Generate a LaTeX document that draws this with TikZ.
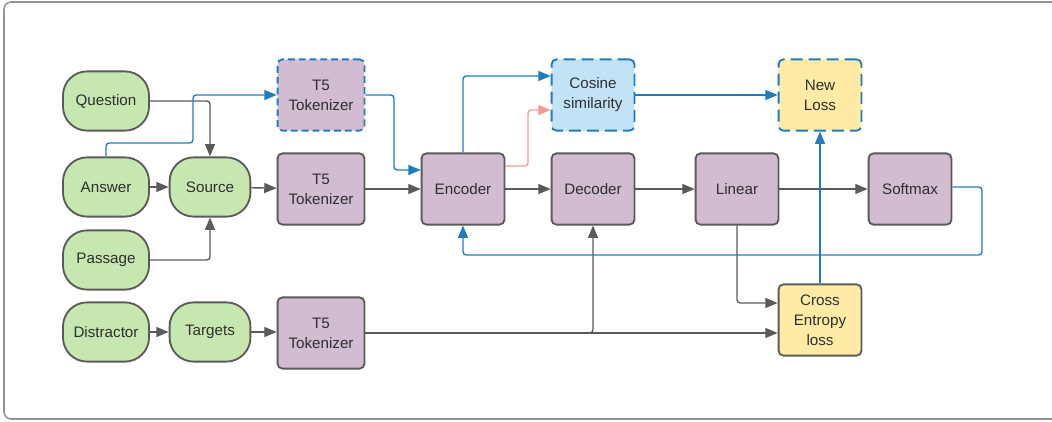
\documentclass[tikz,border=0pt]{standalone}
\usepackage{fontspec}
\setmainfont{Liberation Sans}
\usepackage{tikz}
\usetikzlibrary{calc, arrows.meta}
\definecolor{boxgreen}{HTML}{C7E7B0}
\definecolor{boxpurple}{HTML}{D1BCD2}
\definecolor{boxblue}{HTML}{C2E3F6}
\definecolor{boxyellow}{HTML}{FFEBA6}
\definecolor{edgegray}{HTML}{5A5A5A}
\definecolor{linkblue}{HTML}{1F7CC0}
\definecolor{linksalmon}{HTML}{F59C92}
\definecolor{textgray}{HTML}{2E2E2E}

\begin{document}
\begin{tikzpicture}[x=0.025cm, y=-0.025cm,
    font=\fontsize{10.8}{14.2}\selectfont, text=textgray,
    inbox/.style={draw=edgegray, line width=1.3pt, fill=boxgreen, rounded corners=0.6cm,
      minimum width=2.15cm, minimum height=1.48cm, inner sep=1pt},
    block/.style={draw=edgegray, line width=1.3pt, fill=boxpurple, rounded corners=0.12cm,
      minimum width=2.07cm, minimum height=1.78cm, align=center, inner sep=1pt},
    dashblock/.style={block, draw=linkblue, dash pattern=on 0.3cm off 0.15cm},
    link/.style={draw=edgegray, line width=1pt, rounded corners=0.08cm,
      -{Triangle[length=3.1mm, width=2.5mm]}},
    bluelink/.style={link, draw=linkblue, fill=none},
  ]
  \useasboundingbox (0,0) rectangle (1052,421);
  \draw[line width=1.1pt, draw=gray!85, rounded corners=0.18cm] (4,2) rectangle (1070,419);

  \node[inbox] (question) at (106,101) {Question};
  \node[inbox] (answer) at (106,187) {Answer};
  \node[inbox] (passage) at (106,260) {Passage};
  \node[inbox] (distractor) at (106,332) {Distractor};
  \node[inbox, minimum width=2.02cm] (source) at (210,187) {Source};
  \node[inbox, minimum width=2.02cm] (targets) at (210,332) {Targets};

  \node[dashblock, dash pattern=on 0.17cm off 0.1cm, minimum width=2.17cm] (toktop) at (321,95) {T5\\Tokenizer};
  \node[block, minimum width=2.17cm] (tokmid) at (321,189) {T5\\Tokenizer};
  \node[block, minimum width=2.17cm] (tokbot) at (321,333) {T5\\Tokenizer};
  \node[block] (encoder) at (463,189) {Encoder};
  \node[block] (decoder) at (593,189) {Decoder};
  \node[dashblock, fill=boxblue] (cosine) at (593,95) {Cosine\\similarity};
  \node[block] (linear) at (737,189) {Linear};
  \node[block] (softmax) at (910,189) {Softmax};
  \node[dashblock, fill=boxyellow] (newloss) at (820,95) {New\\Loss};
  \node[block, fill=boxyellow] (crossent) at (820,320) {Cross\\Entropy\\loss};

  \draw[link] (question.east) -| (source.north);
  \draw[link] (answer) -- (source);
  \draw[link] (passage.east) -| (source.south);
  \draw[link] (distractor) -- (targets);
  \draw[link] (source) -- (tokmid);
  \draw[link] (targets) -- (tokbot.west |- targets);
  \draw[link] (tokmid) -- (encoder);
  \draw[link] (encoder) -- (decoder);
  \draw[link] (decoder) -- (linear);
  \draw[link] (linear) -- (softmax);
  \draw[link] (tokbot.east |- 0,333) -| (decoder.south);
  \draw[link] (tokbot.east |- 0,333) -- (crossent.west |- 0,333);
  \draw[link] (linear.south) |- (crossent.west |- 0,303);

  \draw[bluelink] (answer.north) |- (193,143) |- (toktop.west);
  \draw[bluelink] (toktop.east) -| (394,170) -- (encoder.west |- 0,170);
  \draw[bluelink] (encoder.north) |- (cosine.west |- 0,76);
  \draw[link, draw=linksalmon] (encoder.east |- 0,166) -| (528,110) -- (cosine.west |- 0,110);
  \draw[bluelink] (cosine) -- (newloss);
  \draw[bluelink] (softmax.east |- 0,187) -| (982,255) -| (encoder.south);
  \draw[bluelink] (crossent.north) -- (newloss.south);
\end{tikzpicture}
\end{document}
